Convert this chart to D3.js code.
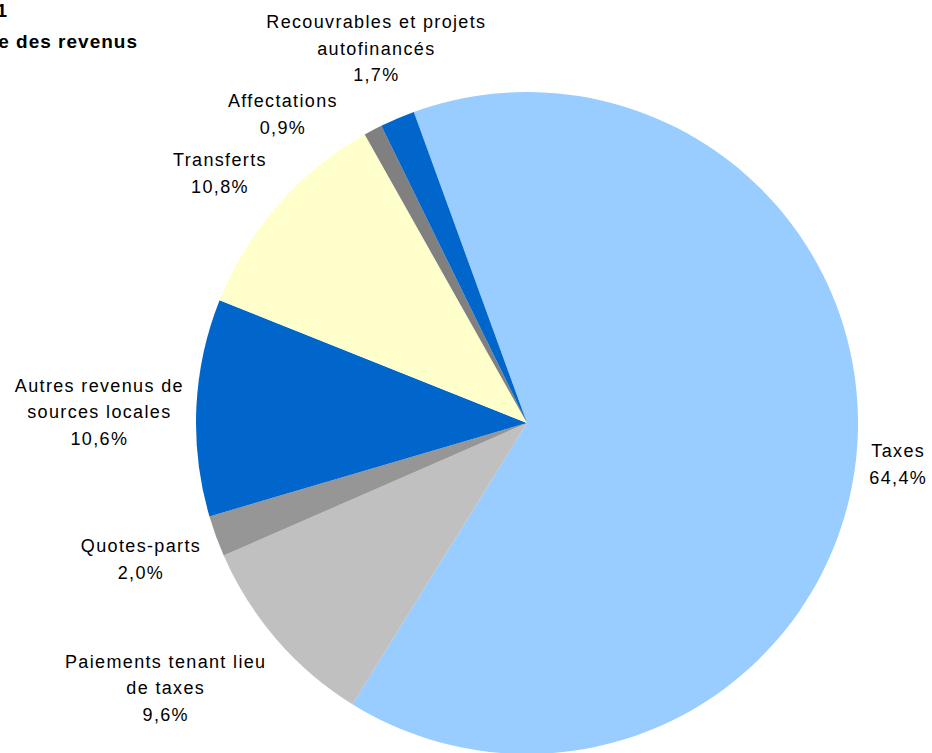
<!DOCTYPE html>
<html>
<head>
<meta charset="utf-8">
<script src="https://cdn.jsdelivr.net/npm/d3@7"></script>
<style>
  html, body { margin: 0; padding: 0; background: #fff; }
  svg { display: block; }
  text { font-family: "Liberation Sans", Arial, Helvetica, sans-serif; fill: #000; }
</style>
</head>
<body>
<svg id="chart" width="932" height="753"></svg>
<script>
// ---- data ----
const categories = [
  "Taxes",
  "Paiements tenant lieu de taxes",
  "Quotes-parts",
  "Autres revenus de sources locales",
  "Transferts",
  "Affectations",
  "Recouvrables et projets autofinancés"
];
const labelLines = [
  ["Taxes"],
  ["Paiements tenant lieu", "de taxes"],
  ["Quotes-parts"],
  ["Autres revenus de", "sources locales"],
  ["Transferts"],
  ["Affectations"],
  ["Recouvrables et projets", "autofinancés"]
];
const values = [64.4, 9.6, 2.0, 10.6, 10.8, 0.9, 1.7];
const colors = ["#99CCFF", "#C0C0C0", "#969696", "#0066CC", "#FFFFCC", "#808080", "#0066CC"];
const titleLines = ["Graphique 1", "Structure des revenus"];

// ---- layout ----
const W = 932, H = 753;
const cx = 527, cy = 423, R = 331;
const startDeg = -20;
// label center offsets relative to outer arc point at mid angle
const labelOffsets = [[42, 7], [-111, 48], [-75, 23], [-97, 4], [-58, -32], [-90, -16], [-21, -70]];
const lineH = 26.5;

const svg = d3.select("#chart");

// Title (clipped at left edge, as in the reference)
svg.append("text")
  .attr("x", 8).attr("y", 17)
  .attr("text-anchor", "end")
  .style("font-weight", "bold").style("font-size", "19px")
  .style("letter-spacing", "1px")
  .text(titleLines[0]);
svg.append("text")
  .attr("x", 138).attr("y", 48)
  .attr("text-anchor", "end")
  .style("font-weight", "bold").style("font-size", "19px")
  .style("letter-spacing", "1px")
  .text(titleLines[1]);

const pie = d3.pie().sort(null).value(d => d)
  .startAngle(startDeg * Math.PI / 180)
  .endAngle(startDeg * Math.PI / 180 + 2 * Math.PI);
const arcs = pie(values);
const arc = d3.arc().innerRadius(0).outerRadius(R);

const g = svg.append("g").attr("transform", `translate(${cx},${cy})`);
g.selectAll("path.slice")
  .data(arcs)
  .join("path")
  .attr("class", "slice")
  .attr("d", arc)
  .attr("fill", (d, i) => colors[i]);

const fmt = v => v.toFixed(1).replace(".", ",") + "%";

arcs.forEach((d, i) => {
  const mid = (d.startAngle + d.endAngle) / 2;
  const ax = R * Math.sin(mid), ay = -R * Math.cos(mid);
  const lx = ax + labelOffsets[i][0];
  const ly = ay + labelOffsets[i][1];
  const lines = labelLines[i].concat([fmt(values[i])]);
  const n = lines.length;
  const t = g.append("text")
    .attr("text-anchor", "middle")
    .style("font-size", "18px")
    .style("letter-spacing", "1.35px");
  lines.forEach((ln, k) => {
    t.append("tspan")
      .attr("x", lx)
      .attr("y", ly + (k - (n - 1) / 2) * lineH + 6.5)
      .text(ln);
  });
});
</script>
</body>
</html>
